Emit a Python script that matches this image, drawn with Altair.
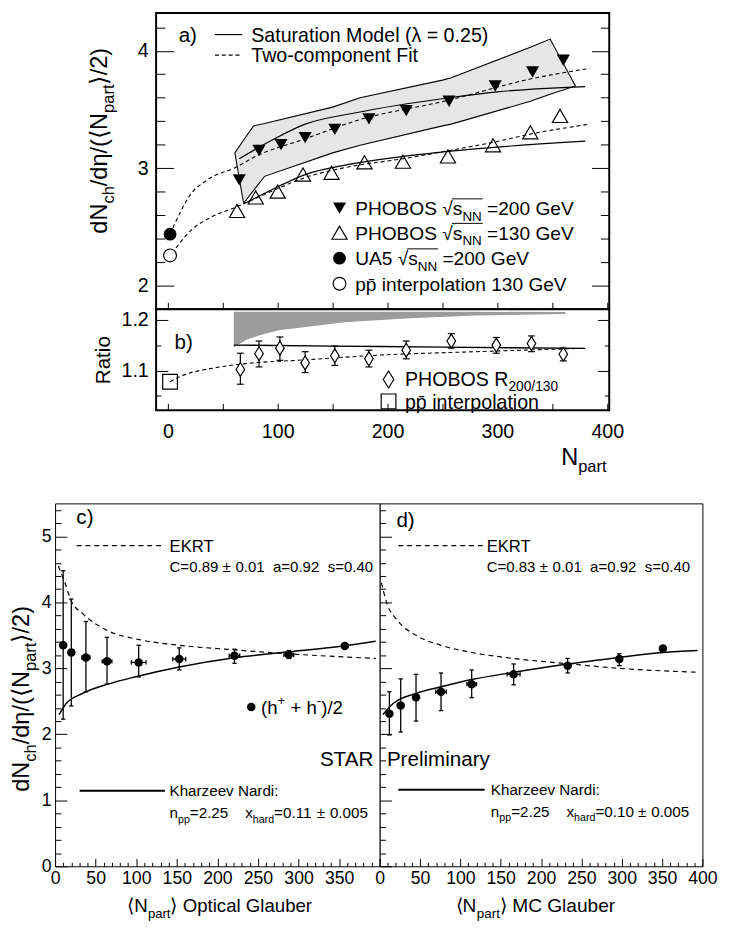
import altair as alt
import pandas as pd

# ===================== DATA =====================
# ---- panel a) dNch/deta/(<Npart>/2) vs Npart ----
a_p200_npart = [65, 83, 103, 125, 152, 183, 217, 256, 298, 332, 360]
a_p200_val = [2.90, 3.15, 3.20, 3.26, 3.33, 3.42, 3.49, 3.57, 3.70, 3.82, 3.92]
a_p130_npart = [63, 80, 100, 123, 149, 179, 214, 255, 296, 330, 357]
a_p130_val = [2.635, 2.75, 2.80, 2.945, 2.96, 3.05, 3.055, 3.10, 3.195, 3.305, 3.445]
a_ua5_npart = [2]
a_ua5_val = [2.437]
a_ppbar_npart = [2]
a_ppbar_val = [2.256]
a_band_npart = [61, 69, 78, 88, 150, 175, 250, 258, 330, 348, 371]
a_band_hi = [3.13, 3.24, 3.36, 3.38, 3.52, 3.60, 3.75, 3.77, 4.03, 4.10, 3.70]
a_band_lo = [3.13, 2.70, 2.81, 2.93, 3.13, 3.195, 3.36, 3.375, 3.57, 3.63, 3.70]
a_sat200_npart = [65, 95, 125, 170, 256, 300, 380]
a_sat200_val = [3.08, 3.24, 3.375, 3.47, 3.60, 3.65, 3.695]
a_sat130_npart = [69, 89, 125, 170, 253, 380]
a_sat130_val = [2.695, 2.79, 2.945, 3.04, 3.14, 3.23]
a_fit200_npart = [4.5, 21, 36, 62.5, 80, 125, 170, 256, 330, 384]
a_fit200_val = [2.49, 2.78, 2.90, 3.01, 3.10, 3.25, 3.40, 3.58, 3.76, 3.85]
a_fit130_npart = [7.4, 21, 39, 62.5, 89, 125, 170, 214, 256, 296, 330, 384]
a_fit130_val = [2.32, 2.47, 2.58, 2.67, 2.78, 2.92, 3.02, 3.08, 3.15, 3.22, 3.29, 3.375]

# ---- panel b) ratio 200/130 ----
b_npart = [66, 83, 102, 125, 152, 183, 217, 258, 299, 331, 360]
b_val = [1.102, 1.133, 1.144, 1.115, 1.129, 1.123, 1.140, 1.158, 1.150, 1.153, 1.132]
b_lo = [1.073, 1.107, 1.120, 1.096, 1.110, 1.107, 1.123, 1.144, 1.134, 1.137, 1.119]
b_hi = [1.134, 1.158, 1.166, 1.137, 1.148, 1.140, 1.158, 1.1725, 1.165, 1.168, 1.144]
b_pp_npart = [2]
b_pp_val = [1.078]
b_band_npart = [60, 71, 86, 101, 131, 161, 220, 280, 362]
b_band_lo = [1.145, 1.160, 1.171, 1.179, 1.187, 1.195, 1.203, 1.208, 1.211]
b_band_hi = [1.2155, 1.2155, 1.2155, 1.2155, 1.2155, 1.2155, 1.2155, 1.2155, 1.2150]
b_sat_npart = [60, 150, 250, 380]
b_sat_val = [1.150, 1.148, 1.146, 1.1435]
b_fit_npart = [2, 12, 42, 71, 125, 190, 280, 380]
b_fit_val = [1.078, 1.089, 1.105, 1.1135, 1.121, 1.130, 1.137, 1.1437]

# ---- panel c) STAR, optical Glauber ----
c_npart = [10, 20, 38, 64, 103, 153, 221, 288, 357]
c_val = [3.35, 3.24, 3.165, 3.106, 3.09, 3.14, 3.19, 3.205, 3.34]
c_lo = [2.23, 2.43, 2.645, 2.76, 2.87, 2.976, 3.076, 3.15, 3.30]
c_hi = [4.48, 4.05, 3.71, 3.47, 3.35, 3.31, 3.29, 3.27, 3.38]
c_xerr = [0, 0, 5, 6, 9, 8, 6.5, 6, 0]
c_ekrt_npart = [4, 12, 20, 34, 65, 102, 153, 221, 288, 395]
c_ekrt_val = [4.55, 4.30, 4.02, 3.83, 3.57, 3.44, 3.35, 3.28, 3.22, 3.15]
c_kn_npart = [5, 14, 34, 65, 102, 153, 221, 288, 350, 395]
c_kn_val = [2.30, 2.47, 2.62, 2.76, 2.88, 3.02, 3.16, 3.25, 3.33, 3.41]

# ---- panel d) STAR, MC Glauber ----
d_npart = [12, 26, 45, 76, 114, 166, 233, 297, 351]
d_val = [2.31, 2.437, 2.56, 2.645, 2.76, 2.91, 3.04, 3.14, 3.30]
d_lo = [1.99, 2.035, 2.20, 2.36, 2.556, 2.75, 2.93, 3.04, 3.27]
d_hi = [2.645, 2.84, 2.91, 2.93, 2.976, 3.066, 3.15, 3.22, 3.33]
d_xerr = [0, 0, 0, 6.5, 6, 8, 0, 0, 0]
d_ekrt_npart = [2, 9, 21, 45, 76, 114, 166, 233, 297, 394]
d_ekrt_val = [4.30, 3.98, 3.74, 3.50, 3.35, 3.24, 3.15, 3.07, 3.00, 2.94]
d_kn_npart = [4, 17, 45, 76, 114, 166, 233, 297, 351, 394]
d_kn_val = [2.30, 2.47, 2.62, 2.72, 2.83, 2.94, 3.066, 3.165, 3.24, 3.27]

# axis tick values / labels
a_y_major = [2, 3, 4]
a_y_minor = [1.8, 2.2, 2.4, 2.6, 2.8, 3.2, 3.4, 3.6, 3.8, 4.2]
b_y_major = [1.1, 1.2]
b_y_minor = [1.05, 1.15]
ab_x_ticks = [0, 50, 100, 150, 200, 250, 300, 350, 400]
ab_x_labels = [0, 100, 200, 300, 400]
cd_y_major = [0, 1, 2, 3, 4, 5]
cd_y_minor = [v / 10 for v in range(2, 55, 2) if v % 10 != 0]
cd_x_major = [0, 50, 100, 150, 200, 250, 300, 350, 400]
cd_x_minor = [v for v in range(10, 400, 10) if v % 50 != 0]
c_x_labels = [0, 50, 100, 150, 200, 250, 300, 350]
d_x_labels = [0, 50, 100, 150, 200, 250, 300, 350, 400]

# ===================== HELPERS =====================
FONT = "Liberation Sans"
ONE = alt.InlineData(values=[{"k": 0}])
CW = {' ': 278, '(': 333, ')': 333, '+': 584, '-': 333, '.': 278, '/': 278, ':': 278, '=': 584,
      'A': 667, 'B': 667, 'C': 722, 'E': 667, 'F': 611, 'G': 778, 'H': 722, 'K': 667, 'M': 833,
      'N': 722, 'O': 778, 'P': 667, 'R': 722, 'S': 667, 'T': 611, 'U': 722, 'V': 667,
      'a': 556, 'b': 556, 'c': 500, 'd': 556, 'e': 556, 'g': 556, 'h': 556, 'i': 222, 'l': 222,
      'm': 833, 'n': 556, 'o': 556, 'p': 556, 'r': 333, 's': 500, 't': 278, 'u': 556, 'v': 500,
      'w': 722, 'x': 500, 'y': 500, 'z': 500, '\u00b1': 584, '\u221a': 549, '\u03bb': 500,
      '\u03b7': 556, '\u27e8': 390, '\u27e9': 390, '\u0304': 0}


def tw(s, fs):
    return sum(CW.get(ch, 556) for ch in s) * fs / 1000.0


def text_marks(origin, pieces, x, y, fs, center=False, angle=0, subdy=0.3):
    """pieces: list of (string, kind) with kind n / sub / sup.
    horizontal: x = left (or centre), y = middle of text.
    angle 270: x = baseline position, y = starting (bottom) position."""
    ox, oy = origin
    items, cur = [], 0.0
    for s, kind in pieces:
        size = fs * 0.7 if kind in ('sub', 'sup') else fs
        dy = subdy * fs if kind == 'sub' else (-0.45 * fs if kind == 'sup' else 0.0)
        t = s.strip(' ')
        lead = len(s) - len(s.lstrip(' '))
        if t:
            items.append((t, size, cur + tw(' ' * lead, size), dy))
        cur += tw(s, size)
    if angle == 0:
        ax = x - ox - (cur / 2 if center else 0)
        ay = y + 0.36 * fs - oy
    else:
        ax = x - ox
        ay = y - oy
    out = []
    for t, size, dx, dy in items:
        kw = dict(text=t, font=FONT, fontSize=round(size, 2), align='left',
                  baseline='alphabetic', color='black', dx=round(dx, 2), dy=round(dy, 2))
        if angle:
            kw['angle'] = angle
        out.append(alt.Chart(ONE).mark_text(**kw).encode(x=alt.value(round(ax, 2)),
                                                          y=alt.value(round(ay, 2))))
    return out


def marker(origin, x, y, **kw):
    return alt.Chart(ONE).mark_point(opacity=1, **kw).encode(
        x=alt.value(x - origin[0]), y=alt.value(y - origin[1]))


def sample(origin, x1, x2, y, **kw):
    return alt.Chart(ONE).mark_rule(color='black', **kw).encode(
        x=alt.value(round(x1 - origin[0], 2)), x2=alt.value(round(x2 - origin[0], 2)),
        y=alt.value(round(y - origin[1], 2)))


def pts(xs, ys, sx, sy, **kw):
    df = pd.DataFrame({'x': xs, 'y': ys})
    return alt.Chart(df).mark_point(opacity=1, **kw).encode(
        x=alt.X('x:Q', scale=sx, axis=None), y=alt.Y('y:Q', scale=sy, axis=None))


def curve(xs, ys, sx, sy, **kw):
    df = pd.DataFrame({'x': xs, 'y': ys})
    return alt.Chart(df).mark_line(interpolate='monotone', color='black', **kw).encode(
        x=alt.X('x:Q', scale=sx, axis=None), y=alt.Y('y:Q', scale=sy, axis=None))


def band(xs, lo, hi, sx, sy, **kw):
    df = pd.DataFrame({'x': xs, 'lo': lo, 'hi': hi})
    return alt.Chart(df).mark_area(**kw).encode(
        x=alt.X('x:Q', scale=sx, axis=None), y=alt.Y('hi:Q', scale=sy, axis=None), y2='lo:Q')


def vbars(xs, lo, hi, sx, sy, cap, sw=1.2):
    df = pd.DataFrame({'x': xs, 'lo': lo, 'hi': hi})
    r = alt.Chart(df).mark_rule(color='black', strokeWidth=sw).encode(
        x=alt.X('x:Q', scale=sx, axis=None), y=alt.Y('lo:Q', scale=sy, axis=None), y2='hi:Q')
    return [r,
            pts(xs, lo, sx, sy, shape='stroke', size=cap, filled=False, color='black', strokeWidth=sw),
            pts(xs, hi, sx, sy, shape='stroke', size=cap, filled=False, color='black', strokeWidth=sw)]


def hbars(xs, ys, err, sx, sy, cap, sw=1.2):
    rows = [(x, y, e) for x, y, e in zip(xs, ys, err) if e > 0]
    df = pd.DataFrame({'x1': [r[0] - r[2] for r in rows], 'x2': [r[0] + r[2] for r in rows],
                       'y': [r[1] for r in rows]})
    rl = alt.Chart(df).mark_rule(color='black', strokeWidth=sw).encode(
        x=alt.X('x1:Q', scale=sx, axis=None), x2='x2:Q', y=alt.Y('y:Q', scale=sy, axis=None))
    vline = 'M0,-1L0,1'
    return [rl,
            pts(list(df['x1']), list(df['y']), sx, sy, shape=vline, size=cap, filled=False,
                color='black', strokeWidth=sw),
            pts(list(df['x2']), list(df['y']), sx, sy, shape=vline, size=cap, filled=False,
                color='black', strokeWidth=sw)]


def axis_layer(xdom, ydom, sx, sy, xaxis=None, yaxis=None):
    df = pd.DataFrame({'x': xdom, 'y': ydom})
    return alt.Chart(df).mark_point(opacity=0).encode(
        x=alt.X('x:Q', scale=sx, axis=xaxis), y=alt.Y('y:Q', scale=sy, axis=yaxis))


def tick_axis(orient, offset, values, size, width=1):
    return alt.Axis(orient=orient, offset=offset, values=values, tickSize=size, tickWidth=width,
                    tickColor='black', labels=False, domain=False, grid=False, title=None)


def label_axis(orient, values, fs, pad, fmt=None):
    kw = dict(orient=orient, values=values, ticks=False, tickSize=0, domain=False, grid=False,
              title=None, labelFont=FONT, labelFontSize=fs, labelPadding=pad, labelColor='black',
              labelFlush=False, labelOverlap=False)
    if fmt:
        kw['format'] = fmt
    return alt.Axis(**kw)


def panel(layers, W, H, sw):
    return alt.layer(*layers).resolve_axis(x='independent', y='independent').properties(
        width=W, height=H, view=alt.ViewBackground(stroke='black', strokeWidth=sw, fill='white'))


DASH_A = [4, 3]
DASH_C = [5, 4]
YTITLE = [("dN", 'n'), ("ch", 'sub'), ("/d\u03b7/(", 'n'), ("\u27e8", 'n'), ("N", 'n'),
          ("part", 'sub'), ("\u27e9", 'n'), ("/2)", 'n')]
DIAMOND = 'M0,-1L0.62,0L0,1L-0.62,0Z'

# ===================== PANEL a =====================
WA, HA = 462, 302
XD_AB = [-10.7, 401.8]
YD_A = [1.7975, 4.3225]
OA = (158, 8)
sxa = alt.Scale(domain=XD_AB, nice=False, zero=False)
sya = alt.Scale(domain=YD_A, nice=False, zero=False)

la = [
    band(a_band_npart, a_band_lo, a_band_hi, sxa, sya, fill='#e6e6e6', stroke='black',
         strokeWidth=1.1),
    curve(a_sat200_npart, a_sat200_val, sxa, sya, strokeWidth=1.2),
    curve(a_sat130_npart, a_sat130_val, sxa, sya, strokeWidth=1.2),
    curve(a_fit200_npart, a_fit200_val, sxa, sya, strokeWidth=1.1, strokeDash=DASH_A),
    curve(a_fit130_npart, a_fit130_val, sxa, sya, strokeWidth=1.1, strokeDash=DASH_A),
    pts(a_p200_npart, a_p200_val, sxa, sya, shape='triangle-down', size=180, filled=True,
        color='black'),
    pts(a_p130_npart, a_p130_val, sxa, sya, shape='triangle-up', size=240, filled=False,
        color='black', strokeWidth=1.2),
    pts(a_ua5_npart, a_ua5_val, sxa, sya, shape='circle', size=170, filled=True, color='black'),
    pts(a_ppbar_npart, a_ppbar_val, sxa, sya, shape='circle', size=170, filled=False,
        color='black', strokeWidth=1.2),
    axis_layer(XD_AB, YD_A, sxa, sya, xaxis=tick_axis('top', -HA, ab_x_ticks, 7),
               yaxis=label_axis('left', a_y_major, 20, 8)),
    axis_layer(XD_AB, YD_A, sxa, sya, yaxis=tick_axis('right', -WA, a_y_major, 18)),
    axis_layer(XD_AB, YD_A, sxa, sya, yaxis=tick_axis('right', -WA, a_y_minor, 9)),
    axis_layer(XD_AB, YD_A, sxa, sya, yaxis=tick_axis('left', -WA, a_y_major, 18)),
    axis_layer(XD_AB, YD_A, sxa, sya, yaxis=tick_axis('left', -WA, a_y_minor, 9)),
    sample(OA, 218, 246, 30, strokeWidth=1.2),
    sample(OA, 218, 246, 51, strokeWidth=1.1, strokeDash=DASH_A),
    marker(OA, 345, 207, shape='triangle-down', size=180, filled=True, color='black'),
    marker(OA, 345, 232, shape='triangle-up', size=240, filled=False, color='black',
           strokeWidth=1.2),
    marker(OA, 345, 258, shape='circle', size=170, filled=True, color='black'),
    marker(OA, 345, 284, shape='circle', size=170, filled=False, color='black', strokeWidth=1.2),
]
la += text_marks(OA, [("a)", 'n')], 181, 30, 21)
la += text_marks(OA, [("Saturation Model (\u03bb = 0.25)", 'n')], 255, 30, 20)
la += text_marks(OA, [("Two-component Fit", 'n')], 255, 51, 20)
LEG_FS = 19.5
for lead, tail, ymid in [("PHOBOS \u221a", " =200 GeV", 207), ("PHOBOS \u221a", " =130 GeV", 232),
                         ("UA5 \u221a", " =200 GeV", 258)]:
    la += text_marks(OA, [(lead + "s", 'n'), ("NN", 'sub'), (tail, 'n')], 361, ymid, LEG_FS)
    # radical overbar above s_NN
    xs0 = 361 + tw(lead, LEG_FS) - 1
    xs1 = 361 + tw(lead + "s", LEG_FS) + tw("NN", LEG_FS * 0.7) + 1
    la.append(sample(OA, xs0, xs1, ymid - 9.5, strokeWidth=1))
la += text_marks(OA, [("pp\u0304 interpolation 130 GeV", 'n')], 361, 284, LEG_FS)
la += text_marks(OA, YTITLE, 108, 233, 24, angle=270)
panel_a = panel(la, WA, HA, 2)

# ===================== PANEL b =====================
WB, HB = 462, 103
YD_B = [1.0219, 1.2206]
OB = (158, 310)
syb = alt.Scale(domain=YD_B, nice=False, zero=False)

lb = [
    band(b_band_npart, b_band_lo, b_band_hi, sxa, syb, fill='#9c9c9c'),
    curve(b_sat_npart, b_sat_val, sxa, syb, strokeWidth=1.4),
    curve(b_fit_npart, b_fit_val, sxa, syb, strokeWidth=1.1, strokeDash=DASH_A),
]
lb += vbars(b_npart, b_lo, b_hi, sxa, syb, cap=49)
lb += [
    pts(b_npart, b_val, sxa, syb, shape=DIAMOND, size=200, filled=True, fill='white',
        stroke='black', strokeWidth=1.2),
    pts(b_pp_npart, b_pp_val, sxa, syb, shape='square', size=225, filled=False, color='black',
        strokeWidth=1.2),
    axis_layer(XD_AB, YD_B, sxa, syb, xaxis=label_axis('bottom', ab_x_labels, 20, 12),
               yaxis=label_axis('left', b_y_major, 20, 8, fmt='.1f')),
    axis_layer(XD_AB, YD_B, sxa, syb, xaxis=tick_axis('top', -HB, ab_x_ticks, 7),
               yaxis=tick_axis('right', -WB, b_y_major, 12)),
    axis_layer(XD_AB, YD_B, sxa, syb, yaxis=tick_axis('right', -WB, b_y_minor, 5)),
    axis_layer(XD_AB, YD_B, sxa, syb, yaxis=tick_axis('left', -WB, b_y_major, 12)),
    axis_layer(XD_AB, YD_B, sxa, syb, yaxis=tick_axis('left', -WB, b_y_minor, 5)),
    marker(OB, 395, 381.7, shape=DIAMOND, size=300, filled=False, color='black',
           strokeWidth=1.2),
    marker(OB, 395, 404, shape='square', size=225, filled=False, color='black',
           strokeWidth=1.2),
]
lb += text_marks(OB, [("b)", 'n')], 176.7, 343.3, 21)
lb += text_marks(OB, [("PHOBOS R", 'n'), ("200/130", 'sub')], 411.7, 381.5, 20, subdy=0.22)
lb += text_marks(OB, [("pp\u0304 interpolation", 'n')], 411.7, 405, 20)
lb += text_marks(OB, [("Ratio", 'n')], 110.5, 386.5, 21, angle=270)
lb += text_marks(OB, [("N", 'n'), ("part", 'sub')], 571, 460, 24)
panel_b = panel(lb, WB, HB, 2)

# ===================== PANEL c =====================
WC, HC = 331, 370
WD = 329
XD_CD = [0, 400]
YD_CD = [0, 5.5]
OC = (55, 503)
OD = (386, 503)
sxc = alt.Scale(domain=XD_CD, nice=False, zero=False)
syc = alt.Scale(domain=YD_CD, nice=False, zero=False)


def star_panel(npart, val, lo, hi, xerr, ekx, eky, knx, kny, W, origin, xlabels, ylabels):
    L = [curve(ekx, eky, sxc, syc, strokeWidth=1.2, strokeDash=DASH_C),
         curve(knx, kny, sxc, syc, strokeWidth=1.5)]
    L += vbars(npart, lo, hi, sxc, syc, cap=20, sw=1.3)
    L += hbars(npart, val, xerr, sxc, syc, cap=20, sw=1.3)
    L.append(pts(npart, val, sxc, syc, shape='circle', size=75, filled=True, color='black'))
    yl = label_axis('left', ylabels, 18, 4) if ylabels else None
    L += [
        axis_layer(XD_CD, YD_CD, sxc, syc, xaxis=label_axis('bottom', xlabels, 18, 4), yaxis=yl),
        axis_layer(XD_CD, YD_CD, sxc, syc, xaxis=tick_axis('top', -HC, cd_x_major, 8),
                   yaxis=tick_axis('right', -W, cd_y_major, 12)),
        axis_layer(XD_CD, YD_CD, sxc, syc, xaxis=tick_axis('top', -HC, cd_x_minor, 4),
                   yaxis=tick_axis('right', -W, cd_y_minor, 6)),
    ]
    return L


lc = star_panel(c_npart, c_val, c_lo, c_hi, c_xerr, c_ekrt_npart, c_ekrt_val, c_kn_npart,
                c_kn_val, WC, OC, c_x_labels, cd_y_major)
lc += [sample(OC, 77, 165, 546, strokeWidth=1.2, strokeDash=DASH_C),
       sample(OC, 80, 167, 796, strokeWidth=2),
       marker(OC, 255, 710.7, shape='circle', size=75, filled=True, color='black'),
       # invisible anchor fixing the left edge of the whole figure
       alt.Chart(ONE).mark_rule(opacity=0, strokeWidth=1).encode(
           x=alt.value(-47), y=alt.value(200), y2=alt.value(210))]
lc += text_marks(OC, [("c)", 'n')], 76.7, 516.7, 21)
lc += text_marks(OC, [("EKRT", 'n')], 171.7, 546, 17)
lc += text_marks(OC, [("C=0.89", 'n'), (" \u00b1 ", 'n'), ("0.01", 'n'), ("  a=0.92", 'n'),
                      ("  s=0.40", 'n')], 171.7, 567.3, 15.3)
lc += text_marks(OC, [("(h", 'n'), ("+", 'sup'), (" + h", 'n'), ("-", 'sup'), (")/2", 'n')],
                 265, 710.7, 19)
lc += text_marks(OC, [("STAR", 'n')], 325, 763.3, 21)
lc += text_marks(OC, [("Kharzeev Nardi:", 'n')], 171.7, 796, 15.5)
lc += text_marks(OC, [("n", 'n'), ("pp", 'sub'), ("=2.25", 'n'), ("    x", 'n'), ("hard", 'sub'),
                      ("=0.11", 'n'), (" \u00b1 ", 'n'), ("0.005", 'n')], 171.7, 818.3, 15.5)
lc += text_marks(OC, YTITLE, 28.5, 797, 24, angle=270)
lc += text_marks(OC, [("\u27e8N", 'n'), ("part", 'sub'), ("\u27e9 Optical Glauber", 'n')],
                 223, 913, 19, center=True)
panel_c = panel(lc, WC, HC, 1)

# ===================== PANEL d =====================
ld = star_panel(d_npart, d_val, d_lo, d_hi, d_xerr, d_ekrt_npart, d_ekrt_val, d_kn_npart,
                d_kn_val, WD, OD, d_x_labels, None)
ld += [sample(OD, 405, 493, 546, strokeWidth=1.2, strokeDash=DASH_C),
       sample(OD, 405, 493, 795, strokeWidth=2)]
ld += text_marks(OD, [("d)", 'n')], 403, 520, 21)
ld += text_marks(OD, [("EKRT", 'n')], 495, 546, 17)
ld += text_marks(OD, [("C=0.83", 'n'), (" \u00b1 ", 'n'), ("0.01", 'n'), ("  a=0.92", 'n'),
                      ("  s=0.40", 'n')], 495, 567, 15.3)
ld += text_marks(OD, [("Preliminary", 'n')], 393.3, 763.3, 21)
ld += text_marks(OD, [("Kharzeev Nardi:", 'n')], 499.3, 795, 15.5)
ld += text_marks(OD, [("n", 'n'), ("pp", 'sub'), ("=2.25", 'n'), ("    x", 'n'), ("hard", 'sub'),
                      ("=0.10", 'n'), (" \u00b1 ", 'n'), ("0.005", 'n')], 499.3, 817, 15.5)
ld += text_marks(OD, [("\u27e8N", 'n'), ("part", 'sub'), ("\u27e9 MC Glauber", 'n')],
                 545, 913, 19.5, center=True)
panel_d = panel(ld, WD, HC, 1)

# ===================== LAYOUT =====================
TOP_H = 472   # top block spans page y 8 .. 480
spacer = alt.Chart(ONE).mark_point(opacity=0).encode(
    x=alt.X('k:Q', axis=None), y=alt.Y('k:Q', axis=None)
).properties(width=103, height=TOP_H,
             view=alt.ViewBackground(stroke='transparent', fill='white'))

top = alt.hconcat(spacer, alt.vconcat(panel_a, panel_b, spacing=0, bounds='flush'),
                  spacing=0, bounds='flush')
bottom = alt.hconcat(panel_c, panel_d, spacing=0, bounds='flush')
chart = alt.vconcat(top, bottom, spacing=23).properties(
    padding={"left": 0, "top": -8, "right": 5, "bottom": 5}, background='white')

chart.save("out.html", embed_options={"renderer": "svg", "actions": False})
